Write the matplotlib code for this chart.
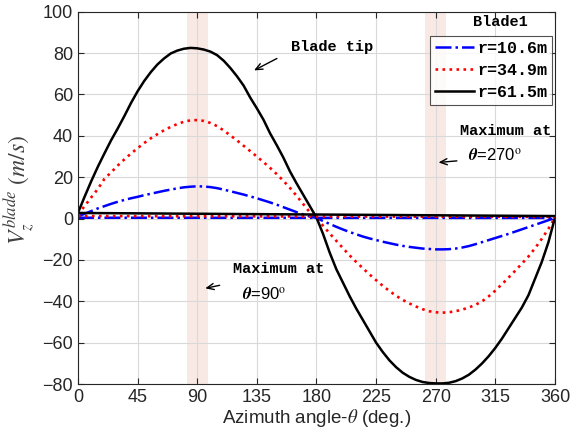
import matplotlib
matplotlib.use("Agg")
import matplotlib.pyplot as plt

# Azimuth angles (deg), 5-degree steps
theta = list(range(0, 365, 5))

# Blade1 out-of-plane velocity at three radii (m/s)
v_r10 = [1.0, 2.3, 3.6, 4.9, 6.0, 7.1, 8.1, 9.0, 9.8, 10.5, 11.3, 12.0, 12.7, 13.4, 14.0, 14.6, 15.1, 15.4, 15.6,
         15.5, 15.2, 14.7, 14.0, 13.2, 12.4, 11.6, 10.7, 9.8, 8.8, 7.8, 6.7, 5.5, 4.3, 3.1, 2.0, 1.0, 0.3,
         -1.2, -2.6, -4.0, -5.3, -6.5, -7.6, -8.7, -9.6, -10.4, -11.2, -11.9, -12.6, -13.2, -13.7, -14.1, -14.5,
         -14.7, -14.9, -14.9, -14.8, -14.5, -14.0, -13.3, -12.4, -11.4, -10.4, -9.4, -8.4, -7.4, -6.3, -5.2,
         -4.1, -3.0, -1.9, -0.8, 0.3]
v_r35 = [2.0, 6.0, 10.2, 14.3, 19.2, 22.3, 25.6, 28.6, 31.4, 34.0, 36.5, 38.8, 40.8, 42.7, 44.3, 45.7, 46.8, 47.5, 47.6,
         47.2, 46.2, 44.7, 42.6, 40.2, 37.8, 35.2, 32.6, 30.0, 27.3, 24.5, 21.5, 18.3, 14.8, 11.0, 7.0, 3.0, 0.3,
         -3.5, -7.2, -10.8, -14.3, -17.8, -21.0, -24.0, -27.0, -29.8, -32.5, -35.0, -37.3, -39.3, -41.0, -42.5, -43.8,
         -44.8, -45.3, -45.5, -45.3, -44.8, -44.0, -43.0, -41.7, -40.0, -37.6, -34.8, -31.7, -28.5, -25.2, -21.8,
         -18.3, -14.3, -9.8, -5.0, 0.5]
v_r62 = [2.7, 10.5, 18.0, 25.0, 31.5, 37.8, 43.5, 49.5, 55.8, 61.5, 66.5, 70.8, 74.5, 77.4, 79.8, 81.2, 82.1, 82.5, 82.3,
         81.7, 80.7, 79.0, 76.3, 72.8, 68.8, 64.3, 58.5, 53.3, 47.8, 41.2, 35.5, 29.5, 22.8, 17.0, 11.5, 6.0, 0.5,
         -7.5, -16.5, -24.5, -31.0, -37.5, -43.5, -49.0, -54.5, -60.0, -64.5, -68.5, -71.8, -74.5, -76.5, -78.0, -79.0,
         -79.5, -79.7, -79.7, -79.4, -78.6, -77.3, -75.5, -73.0, -70.0, -66.5, -62.5, -58.0, -53.0, -48.0, -43.0,
         -37.0, -29.0, -21.0, -11.5, 0.5]

# Near-constant companion lines (same styles)
flat_theta = [0, 360]
flat_r10 = [0.4, 0.3]
flat_r35 = [1.2, 0.8]
flat_r62 = [2.7, 1.2]

labels = ["r=10.6m", "r=34.9m", "r=61.5m"]
xticks = [0, 45, 90, 135, 180, 225, 270, 315, 360]
yticks = [-80, -60, -40, -20, 0, 20, 40, 60, 80, 100]
bands = [(82, 98), (262, 278)]

plt.rcParams["font.family"] = ["Liberation Sans", "DejaVu Sans"]
plt.rcParams["mathtext.fontset"] = "stix"

fig = plt.figure(figsize=(5.73, 4.45), dpi=100)
ax = fig.add_axes([0.136, 0.137, 0.8326, 0.8367])

ax.set_axisbelow(True)
for a, b in bands:
    ax.axvspan(a, b, color="#f5d5cc", alpha=0.5, lw=0, zorder=0.3)

l1, = ax.plot(theta, v_r10, color="#0000ff", ls="-.", lw=1.8, label=labels[0])
l2, = ax.plot(theta, v_r35, color="#ff0000", ls=":", lw=1.9, label=labels[1])
l3, = ax.plot(theta, v_r62, color="black", ls="-", lw=1.8, label=labels[2])
ax.plot(flat_theta, flat_r10, color="#0000ff", ls="-.", lw=1.8)
ax.plot(flat_theta, flat_r35, color="#ff0000", ls=":", lw=1.9)
ax.plot(flat_theta, flat_r62, color="black", ls="-", lw=1.8)

ax.set_xlim(0, 360)
ax.set_ylim(-80, 100)
ax.set_xticks(xticks)
ax.set_yticks(yticks)
ax.grid(True, color="#d9d9d9", lw=0.8)
ax.tick_params(direction="in", length=4, top=True, right=True, labelsize=13,
               colors="#262626", width=0.8)
for s in ax.spines.values():
    s.set_color("#262626")
    s.set_linewidth(0.8)

ax.set_xlabel(r"Azimuth angle-$\theta$ (deg.)", fontsize=13.5, color="#262626", labelpad=1)
ax.set_ylabel(r"$V_z^{blade}\ (m/s)$", fontsize=17, color="#404040", labelpad=0)
ax.yaxis.set_label_coords(-0.085, 0.52)

mono = {"family": ["Liberation Mono", "DejaVu Sans Mono"], "weight": "bold"}
leg = ax.legend(handles=[l1, l2, l3], loc="upper right", bbox_to_anchor=(0.994, 0.935),
                prop={**mono, "size": 12}, frameon=True, fancybox=False,
                handlelength=2.3, handletextpad=0.2, borderpad=0.3, labelspacing=0.42,
                borderaxespad=0)
leg.get_frame().set_edgecolor("#262626")
leg.get_frame().set_linewidth(0.8)
ax.text(0.885, 0.972, "Blade1", transform=ax.transAxes, ha="center", va="center",
        fontsize=11, **mono)

arrow = dict(arrowstyle="->,head_length=0.5,head_width=0.22", color="black", lw=1)

# Annotations
ax.text(161, 83, "Blade tip", fontsize=11, ha="left", va="center", **mono)
ax.annotate("", xy=(131, 71), xytext=(152, 78), arrowprops=arrow)

ax.text(288, 42.5, "Maximum at", fontsize=11, ha="left", va="center", **mono)
ax.text(294, 30.5, r"$\boldsymbol{\theta}$=270$^{\rm o}$", fontsize=12, ha="left", va="center")
ax.annotate("", xy=(270, 27), xytext=(288, 28), arrowprops=arrow)

ax.text(117, -24.5, "Maximum at", fontsize=11, ha="left", va="center", **mono)
ax.text(124, -36.5, r"$\boldsymbol{\theta}$=90$^{\rm o}$", fontsize=12, ha="left", va="center")
ax.annotate("", xy=(94, -34), xytext=(109, -32), arrowprops=arrow)

fig.savefig("out.png", dpi=100)
